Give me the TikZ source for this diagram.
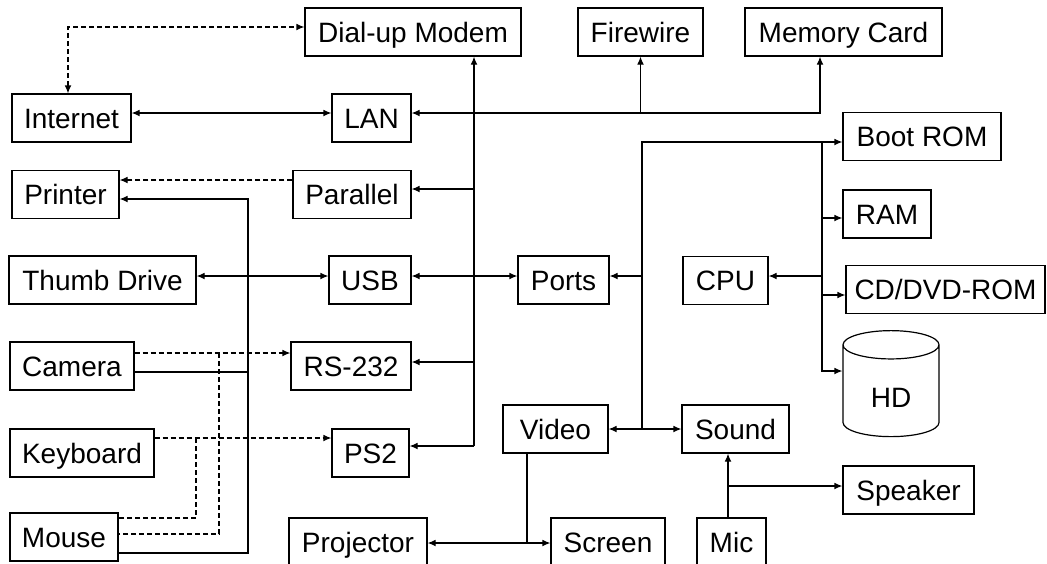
\documentclass[tikz,border=0pt]{standalone}
\usepackage{fontspec}
\setmainfont{Liberation Sans}
\usetikzlibrary{arrows.meta}
\usetikzlibrary{shapes.geometric}

\begin{document}
\begin{tikzpicture}[x=0.5pt, y=-0.5pt, >={Latex[length=4pt,width=3.4pt]}, line width=0.6pt,
  every unit/.style={draw, minimum height=24pt, inner sep=0pt, text height=10pt, text depth=0pt,
    font=\fontsize{14}{16}\selectfont},
  link/.style={dash pattern=on 2.5pt off 1.5pt}]

\useasboundingbox (0,0) rectangle (1047,563);

\foreach \n/\t/\x/\y/\w in {modem/Dial-up Modem/413/32/108, firewire/Firewire/640.5/32/62.5,
    memory/Memory Card/843.5/32/98.5, internet/Internet/71.5/118/59.5, lan/LAN/371.5/118/39.5,
    bootrom/Boot ROM/922/136.5/79, printer/Printer/65.5/194.5/53.5, parallel/Parallel/352/194.5/59,
    ram/RAM/887/214/44, thumb/Thumb Drive/102.5/280/93.5, usb/USB/370/280/41,
    ports/Ports/563.5/280/45.5, cpu/CPU/725.5/280.5/42.5, cddvd/{CD/DVD-ROM}/945.5/289.5/99.5,
    camera/Camera/72/366/62, rs232/RS-232/351/366/60, video/Video/555.5/429/52.5,
    sound/Sound/735.5/429/53.5, keyboard/Keyboard/82/453/72, ps2/PS2/370.5/453/38.5,
    speaker/Speaker/908.5/490/65.5, mouse/Mouse/64/537/54, projector/Projector/358/542/69,
    screen/Screen/608/542/57, mic/Mic/731.5/542/34.5}
  \node [every unit/.try, minimum width=\w pt] (\n) at (\x,\y) {\t};

\node [every unit/.try, cylinder, shape border rotate=90, aspect=0.7, text height=16pt,
  minimum width=48pt, minimum height=53pt] (hd) at (891,391) {HD};

% knots of the lines
\coordinate (dial) at (68,27);
\coordinate (lanbus) at (820,113);
\coordinate (serbus) at (474,446);
\coordinate (lpt) at (250,180);
\coordinate (prntop) at (248,199);
\coordinate (prnbot) at (248,553);
\coordinate (camprn) at (248,372);
\coordinate (camser) at (219,353);
\coordinate (mouseser) at (219,534);
\coordinate (kbdps) at (196,438);
\coordinate (mouseps) at (196,518);
\coordinate (usbrow) at (470,276);
\coordinate (iotop) at (642,142);
\coordinate (iobot) at (642,429);
\coordinate (memtop) at (822,142);
\coordinate (membot) at (822,371);
\coordinate (vid) at (527,543);
\coordinate (micspk) at (728,486);

% network
\draw [<->, link] (internet.north -| dial) -- (dial) -- (dial -| modem.west);
\draw [<->] (lanbus -| internet.east) -- (lanbus -| lan.west);
\draw [<->] (lanbus -| lan.east) -- (lanbus) -- (lanbus |- memory.south);
\draw [->] (lanbus -| firewire.south) -- (firewire.south);

% serial and parallel ports
\draw [->] (serbus) -- (serbus |- modem.south);
\foreach \n/\y in {parallel/189, rs232/362, ps2/446}
  \draw [->] (serbus |- 0,\y) -- (\n.east |- 0,\y);

% devices on the left
\draw [->, link] (lpt -| parallel.west) -- (lpt -| printer.east);
\draw [->] (prnbot -| mouse.east) -- (prnbot) -- (prntop) -- (prntop -| printer.east);
\draw (camprn -| camera.east) -- (camprn);
\draw [->, link] (camser -| camera.east) -- (camser -| rs232.west);
\draw [link] (camser) -- (mouseser) -- (mouseser -| mouse.east);
\draw [->, link] (kbdps -| keyboard.east) -- (kbdps -| ps2.west);
\draw [link] (kbdps) -- (mouseps) -- (mouseps -| mouse.east);

\draw [<->] (usbrow -| thumb.east) -- (usbrow -| usb.west);
\draw [<->] (usbrow -| usb.east) -- (usbrow -| ports.west);

% main bus
\draw [->] (iobot) -- (iotop) -- (iotop -| bootrom.west);
\draw [->] (iotop |- usbrow) -- (usbrow -| ports.east);
\draw [<->] (iobot -| video.east) -- (iobot -| sound.west);

\draw [->] (memtop) -- (membot) -- (membot -| hd.west);
\foreach \n/\y in {ram/218, cddvd/295}
  \draw [->] (memtop |- 0,\y) -- (\n.west |- 0,\y);
\draw [->] (memtop |- usbrow) -- (usbrow -| cpu.east);

% video and sound
\draw (video.south -| vid) -- (vid);
\draw [<->] (vid -| projector.east) -- (vid -| screen.west);
\draw [->] (mic.north -| micspk) -- (micspk |- sound.south);
\draw [->] (micspk) -- (micspk -| speaker.west);

\end{tikzpicture}
\end{document}
